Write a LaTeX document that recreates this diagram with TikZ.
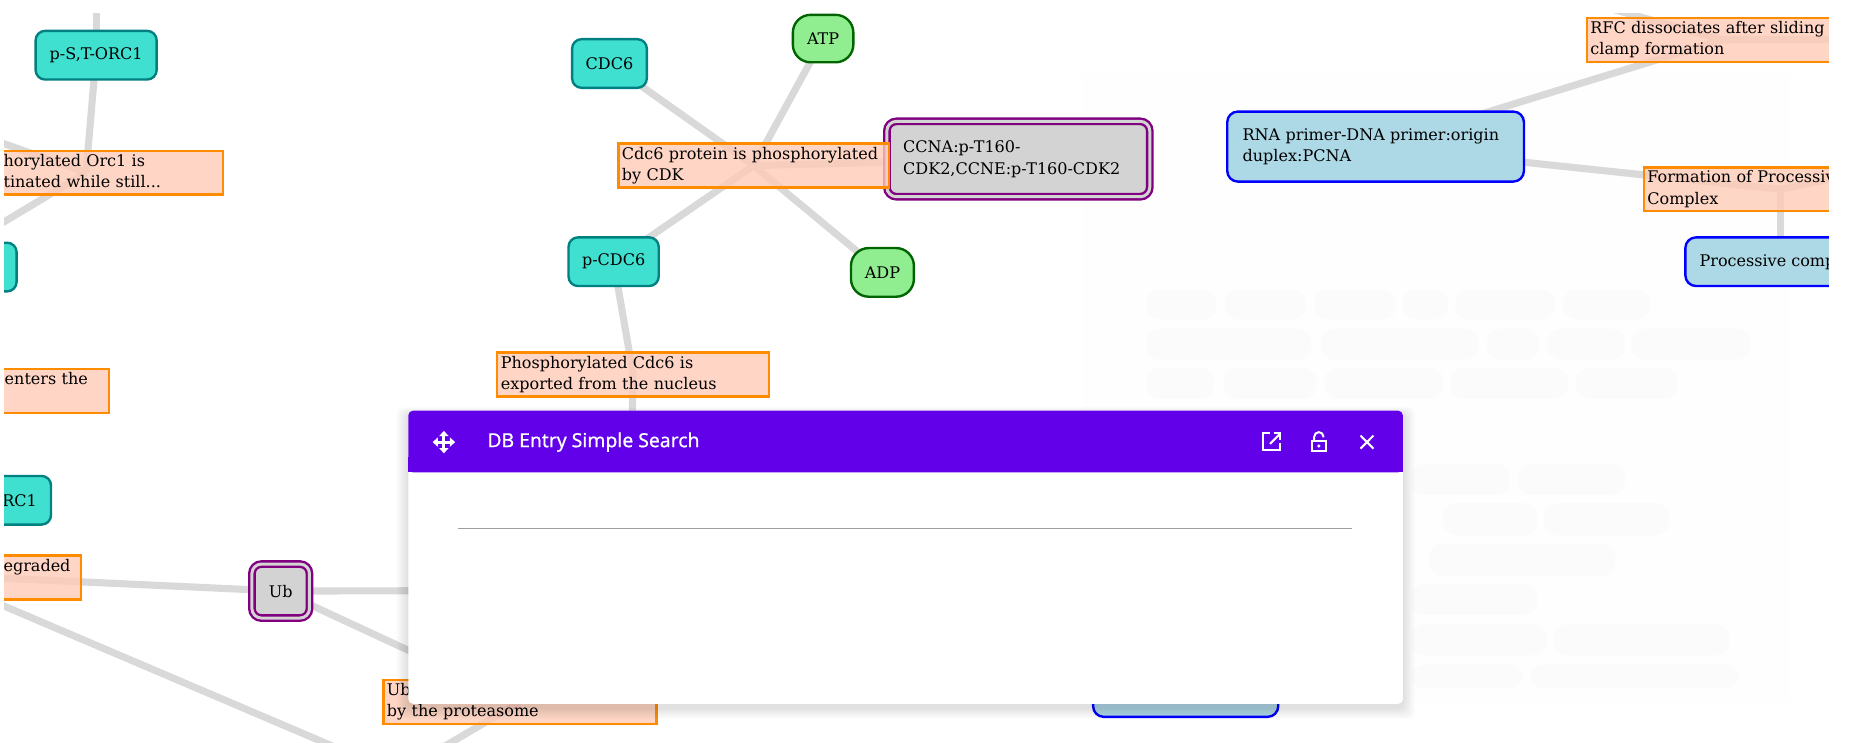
\documentclass[tikz,border=0pt]{standalone}
\usepackage{fontspec}
\setmainfont{DejaVu Serif}
\newfontfamily\uifont{Noto Sans}[FakeBold=0.6]
\usetikzlibrary{backgrounds}
\definecolor{edgegray}{RGB}{217,217,217}
\definecolor{tealfill}{RGB}{64,224,208}
\definecolor{tealdraw}{RGB}{0,128,128}
\definecolor{greenfill}{RGB}{144,238,144}
\definecolor{greendraw}{RGB}{0,100,0}
\definecolor{bluefill}{RGB}{173,216,230}
\definecolor{bluedraw}{RGB}{0,0,255}
\definecolor{cplxfill}{RGB}{211,211,211}
\definecolor{cplxdraw}{RGB}{128,0,128}
\definecolor{labfill}{RGB}{255,204,184}
\definecolor{labdraw}{RGB}{255,140,0}
\definecolor{hdr}{RGB}{98,0,234}
\definecolor{rulegray}{RGB}{158,158,158}
\definecolor{panelfill}{RGB}{254,254,254}
\definecolor{pillfill}{RGB}{251,251,251}
\begin{document}
\begin{tikzpicture}[x=1pt,y=-1pt,
  every node/.style={font=\fontsize{13.5}{18}\selectfont, text=black},
  edge/.style={draw=edgegray, line width=6pt},
  protein/.style={draw=tealdraw, fill=tealfill, line width=2pt, rounded corners=8pt, inner sep=0pt, minimum height=41pt},
  chem/.style={draw=greendraw, fill=greenfill, line width=2pt, rounded corners=15pt, inner sep=0pt, minimum height=40pt},
  cplx/.style={draw=cplxdraw, double=cplxfill, double distance=2.5pt, line width=2pt, fill=cplxfill, rounded corners=8pt, inner sep=0pt},
  bluebox/.style={draw=bluedraw, fill=bluefill, line width=2pt, rounded corners=9pt, inner ysep=0pt},
  labelbox/.style={draw=labdraw, fill=labfill, fill opacity=0.8, text opacity=1, line width=2pt, align=left, inner xsep=3pt, inner ysep=0.5pt, anchor=north west, execute at begin node=\strut, execute at end node=\strut},
  iconline/.style={draw=white, line width=1.7pt}
]
\useasboundingbox (0,0) rectangle (1568,626);
\begin{scope}
\clip (3.5,11.5) rectangle (1541,626);
% species
\node[protein, minimum width=102pt] (pst) at (81,46.5) {p-S,T-ORC1};
\node[protein, minimum width=148pt] (leftprot) at (-60,225) {};
\node[protein, minimum width=53pt] (rc1) at (16.5,421.5) {RC1};
\node[protein, minimum width=63pt] (cdc6) at (513.5,53.5) {CDC6};
\node[protein, minimum width=76pt] (pcdc6) at (517,220.5) {p-CDC6};
\node[chem, minimum width=51pt] (atp) at (693.5,32.5) {ATP};
\node[chem, minimum width=53pt, minimum height=41pt] (adp) at (743.5,229.5) {ADP};
\node[cplx, align=left, text width=194pt, inner xsep=13.75pt, minimum height=63.5pt] (ccna) at (858,134) {CCNA:p-T160-\\CDK2,CCNE:p-T160-CDK2};
\node[cplx, minimum width=48.5pt, minimum height=45.5pt] (ub) at (236.5,498) {Ub};
\node[bluebox, align=left, text width=224pt, inner xsep=13pt, minimum height=59pt] (rna) at (1159,123.5) {RNA primer-DNA primer:origin\\duplex:PCNA};
\node[bluebox, anchor=west, inner xsep=12pt, minimum height=41pt] (proc) at (1419,220.5) {Processive complex};
\node[bluebox, minimum width=156pt, minimum height=43pt] (bluebottom) at (999,582.5) {};
% reaction labels
\node[labelbox, text width=225pt] (orc1lab) at (-44,126) {\hspace*{43pt}horylated Orc1 is\\\hspace*{43pt}tinated while still...};
\node[labelbox, text width=145pt] (enterslab) at (-60,310) {\hspace*{60pt}enters the\\};
\node[labelbox, text width=155pt] (degrlab) at (-94,467) {\hspace*{93pt}egraded\\};
\node[labelbox, text width=222pt] (cdc6lab) at (520,120) {Cdc6 protein is phosphorylated\\by CDK};
\node[labelbox, text width=223pt] (exportlab) at (418,296) {Phosphorylated Cdc6 is\\exported from the nucleus};
\node[labelbox, text width=224pt] (protlab) at (322,572) {Ub\\by the proteasome};
\node[labelbox, text width=222pt] (rfclab) at (1336,14) {RFC dissociates after sliding\\clamp formation};
\node[labelbox, text width=224pt] (formlab) at (1384,140) {Formation of Processive\\Complex};
% free ends
\coordinate (topA) at (81,-10);
\coordinate (orcup) at (-60,98.7);
\coordinate (bottomjoin) at (335,652);
\coordinate (lineAstart) at (-100,466.5);
\coordinate (ubright) at (700,497);
\coordinate (exportdown) at (531,420);
\coordinate (rfcup) at (1295,-10);
\coordinate (rfcright) at (1620,33);
\coordinate (formright) at (1620,135);
\end{scope}
\begin{pgfonlayer}{background}
\begin{scope}
\clip (3.5,11.5) rectangle (1541,626);
\fill[panelfill] (912,62) rectangle (1508,592);
\foreach \a/\b/\c/\d in {966/244/1025/269, 1032/244/1100/269, 1107/244/1176/269, 1182/244/1220/269, 1226/244/1310/269, 1317/244/1390/269,
  966/277/1105/303, 1113/277/1246/303, 1253/277/1297/303, 1304/277/1369/303, 1375/277/1475/303,
  966/310/1023/336, 1031/310/1109/336, 1116/310/1216/336, 1222/310/1321/336, 1328/310/1413/336,
  1189/391/1272/417, 1279/391/1369/417, 1216/424/1295/451, 1301/424/1406/451, 1204/458/1361/485,
  1189/492/1295/518, 1189/526/1303/552, 1309/526/1457/552, 1189/560/1283/580, 1289/560/1465/580}
  \fill[pillfill, rounded corners=11pt] (\a,\b) rectangle (\c,\d);
\draw[edge] (pst.center) -- (topA);
\draw[edge] (pst.center) -- (orc1lab.center);
\draw[edge] (orc1lab.center) -- (orcup);
\draw[edge] (orc1lab.center) -- (leftprot.center);
\draw[edge] (degrlab.center) -- (ub.center);
\draw[edge] (ub.center) -- (protlab.center);
\draw[edge] (ub.center) -- (ubright);
\draw[edge] (lineAstart) -- (bottomjoin);
\draw[edge] (protlab.center) -- (bottomjoin);
\draw[edge] (cdc6.center) -- (cdc6lab.center);
\draw[edge] (atp.center) -- (cdc6lab.center);
\draw[edge] (cdc6lab.center) -- (pcdc6.center);
\draw[edge] (cdc6lab.center) -- (adp.center);
\draw[edge] (cdc6lab.center) -- (ccna.center);
\draw[edge] (pcdc6.center) -- (exportlab.center);
\draw[edge] (exportlab.center) -- (exportdown);
\draw[edge] (rna.center) -- (rfclab.center);
\draw[edge] (rfclab.center) -- (rfcup);
\draw[edge] (rfclab.center) -- (rfcright);
\draw[edge] (rna.center) -- (formlab.center);
\draw[edge] (formlab.center) -- (formlab.center |- proc.center);
\draw[edge] (formlab.center) -- (formright);
\end{scope}
\end{pgfonlayer}
% dialog
\foreach \i in {1,...,10}
  \fill[black, opacity=0.012, rounded corners=6pt] (344-\i,346-0.6*\i+3) rectangle (1182+\i,593+\i+3);
\fill[white, rounded corners=4pt] (344,346) rectangle (1182,593);
\fill[hdr, rounded corners=4pt] (344,346) rectangle (1182,398);
\fill[hdr] (344,385) rectangle (1182,398);
\node[anchor=west, text=white, font=\uifont\fontsize{16.3}{18}\selectfont, inner sep=0pt] (dtitle) at (410.5,372.5) {DB Entry Simple Search};
\draw[rulegray, line width=1pt] (386,445.5) -- (1139,445.5);
% move icon
\begin{scope}[shift={(374,372.5)}]
  \fill[white] (0,-9.5) -- (-4,-5) -- (4,-5) -- cycle;
  \fill[white] (0,9.5) -- (-4,5) -- (4,5) -- cycle;
  \fill[white] (-9.5,0) -- (-5,-4) -- (-5,4) -- cycle;
  \fill[white] (9.5,0) -- (5,-4) -- (5,4) -- cycle;
  \fill[white] (-1.3,-5) rectangle (1.3,5);
  \fill[white] (-5,-1.3) rectangle (5,1.3);
\end{scope}
% open in new icon
\draw[iconline] (1070,365.2) -- (1064.5,365.2) -- (1064.5,379.2) -- (1078.4,379.2) -- (1078.4,373.5);
\draw[iconline] (1070,374) -- (1078,366);
\draw[iconline] (1073,365.2) -- (1078.4,365.2) -- (1078.4,370.6);
% lock open icon
\draw[iconline] (1105.5,371.5) rectangle (1117,380);
\fill[white] (1111.2,375.8) circle (1.5pt);
\draw[iconline] (1107.3,371.5) -- (1107.3,368) arc (180:360:3.9) -- (1115.1,368.5);
% close icon
\draw[iconline] (1146.3,367) -- (1157.2,378);
\draw[iconline] (1157.2,367) -- (1146.3,378);
\end{tikzpicture}
\end{document}
